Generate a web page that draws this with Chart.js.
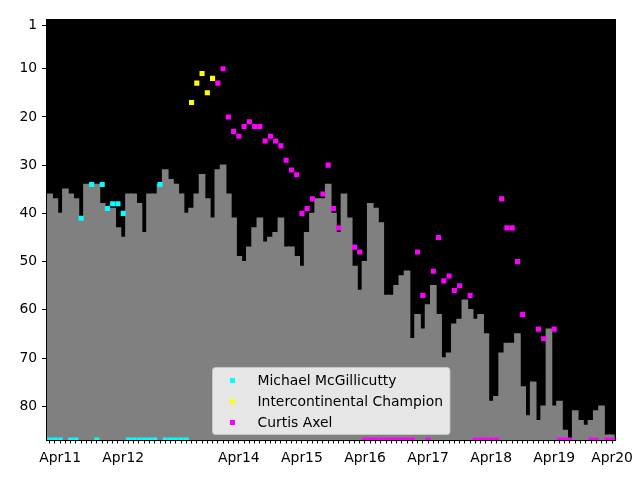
<!DOCTYPE html>
<html>
<head>
<meta charset="utf-8">
<script src="https://cdn.jsdelivr.net/npm/chart.js@4"></script>
<style>
    body { margin: 0; background: #fff; }
</style>
</head>
<body>
<canvas id="rankChart" width="640" height="480"></canvas>
<script>
// monthly rank shown as the gray steps (null = no entry that month)
const monthRank = [
    36, 37, 40, 35, 36, 37, 41, 34, 34, 34,
    38, 39, 39, 43, 45, 36, 36, 38, 44, 36,
    36, 34, 31, 33, 34, 36, 40, 39, 36, 32,
    37, 41, 31, 30, 36, 41, 49, 50, 47, 43,
    41, 46, 45, 44, 41, 47, 47, 49, 51, 44,
    40, 37, 37, 34, 40, 44, 36, 41, 51, 56,
    50, 38, 39, 42, 57, 57, 55, 53, 52, 66,
    61, 64, 59, 55, 61, 70, 69, 63, 62, 58,
    60, 62, 61, 65, 79, 78, 69, 67, 67, 65,
    76, 82, 75, 83, 80, 64, 80, 79, 85, null,
    81, 83, 84, 83, 81, 80, 86, 86
];

// marker series: month index + rank, 87 sits on the bottom edge
const mcgIdx = [0, 1, 2, 4, 5, 6, 8, 9, 10, 11, 12, 13, 14, 15, 16, 17, 18, 19, 20, 21, 22, 23, 24, 25, 26];
const mcgRank = [87, 87, 87, 87, 87, 41, 34, 87, 34, 39, 38, 38, 40, 87, 87, 87, 87, 87, 87, 34, 87, 87, 87, 87, 87];

const icIdx = [27, 28, 29, 30, 31];
const icRank = [17, 13, 11, 15, 12];

const axelIdx = [32, 33, 34, 35, 36, 37, 38, 39, 40, 41, 42, 43, 44, 45, 46, 47, 48, 49, 50,
    52, 53, 54, 55, 58, 59, 60, 61, 62, 63, 64, 65, 66, 67, 68, 69,
    70, 71, 72, 73, 74, 75, 76, 77, 78, 80, 81, 82, 83, 84, 85, 86, 87, 88, 89, 90,
    93, 94, 96, 97, 98, 99, 103, 104, 106, 107];
const axelRank = [13, 10, 20, 23, 24, 22, 21, 22, 22, 25, 24, 25, 26, 29, 31, 32, 40, 39, 37,
    36, 30, 39, 43, 47, 48, 87, 87, 87, 87, 87, 87, 87, 87, 87, 87,
    48, 57, 87, 52, 45, 54, 53, 56, 55, 57, 87, 87, 87, 87, 87, 37, 43, 43, 50, 61,
    64, 66, 64, 87, 87, 87, 87, 87, 87, 87];

const tickIdx = [2, 14, 36, 48, 60, 72, 84, 96, 107];
const tickText = ["Apr11", "Apr12", "Apr14", "Apr15", "Apr16", "Apr17", "Apr18", "Apr19", "Apr20"];
const yTicks = [1, 10, 20, 30, 40, 50, 60, 70, 80];

const yTop = -0.1, yBottom = 87;
const tickFont = { family: "'DejaVu Sans'", size: 13.9 };

function spread(idx, vals) {
    const out = monthRank.map(() => null);
    idx.forEach((i, k) => { out[i] = vals[k]; });
    return out;
}

function markers(label, color, idx, vals) {
    return {
        type: "line",
        label: label,
        data: spread(idx, vals),
        showLine: false,
        pointStyle: "rect",
        pointRadius: 3.6,
        pointHoverRadius: 3.6,
        pointBackgroundColor: color,
        pointBorderColor: color,
        pointBorderWidth: 0,
        backgroundColor: color,
        borderColor: color,
        clip: 0,
        order: 0
    };
}

// black plot area + frame (snapped to whole pixels)
const blackArea = {
    id: "blackArea",
    beforeDatasetsDraw(chart) {
        const { ctx, chartArea: a } = chart;
        const L = Math.round(a.left), R = Math.round(a.right);
        const T = Math.round(a.top), B = Math.round(a.bottom);
        ctx.save();
        ctx.fillStyle = "#000";
        ctx.fillRect(L, T, R - L, B - T);
        ctx.restore();
    },
    afterDraw(chart) {
        const { ctx, chartArea: a } = chart;
        const L = Math.round(a.left), R = Math.round(a.right);
        const T = Math.round(a.top), B = Math.round(a.bottom);
        ctx.save();
        ctx.strokeStyle = "#000";
        ctx.lineWidth = 1;
        ctx.strokeRect(L - 0.5, T - 0.5, R - L + 1, B - T + 1);
        ctx.restore();
    }
};

// legend drawn inside the plot, lower centre
const boxLegend = {
    id: "boxLegend",
    afterDatasetsDraw(chart) {
        const { ctx, chartArea: a } = chart;
        const items = chart.data.datasets.slice(1);
        ctx.save();
        ctx.font = "13.9px 'DejaVu Sans'";
        const textW = Math.max(...items.map(d => ctx.measureText(d.label).width));
        const w = textW + 52, h = 67, rowH = 21;
        const x = Math.round((a.left + a.right) / 2 - w / 2) + 0.5;
        const y = Math.round(a.bottom - 6 - h) + 0.5;
        ctx.beginPath();
        ctx.roundRect(x, y, w, h, 3);
        ctx.fillStyle = "rgba(255,255,255,0.8)";
        ctx.fill();
        ctx.strokeStyle = "rgba(204,204,204,0.8)";
        ctx.lineWidth = 1;
        ctx.stroke();
        ctx.textBaseline = "middle";
        items.forEach((d, k) => {
            const cy = Math.round(y + 12 + k * rowH);
            ctx.fillStyle = d.pointBackgroundColor;
            ctx.fillRect(Math.round(x + 17.5), cy - 2, 5, 5);
            ctx.fillStyle = "#000";
            ctx.fillText(d.label, x + 45, cy + 1);
        });
        ctx.restore();
    }
};

const ctx = document.getElementById("rankChart").getContext("2d");

new Chart(ctx, {
    type: "bar",
    data: {
        labels: monthRank.map((_, i) => i),
        datasets: [
            {
                label: "rank",
                data: monthRank.map(v => v == null ? null : [v, yBottom]),
                backgroundColor: "#808080",
                borderWidth: 0,
                inflateAmount: 0.7,
                barPercentage: 1,
                categoryPercentage: 1,
                order: 1
            },
            markers("Michael McGillicutty", "#00ffff", mcgIdx, mcgRank),
            markers("Intercontinental Champion", "#ffff00", icIdx, icRank),
            markers("Curtis Axel", "#ff00ff", axelIdx, axelRank)
        ]
    },
    options: {
        responsive: false,
        animation: false,
        layout: { padding: { top: 20, right: 25, left: 1, bottom: 0 } },
        plugins: {
            legend: { display: false },
            tooltip: { enabled: false }
        },
        scales: {
            x: {
                grid: { offset: false, drawOnChartArea: false, tickLength: 3.5, color: "#000" },
                border: { display: false },
                ticks: {
                    autoSkip: false,
                    maxRotation: 0,
                    minRotation: 0,
                    padding: 7,
                    color: "#000",
                    font: tickFont,
                    callback: (v, i) => {
                        const k = tickIdx.indexOf(i);
                        return k >= 0 ? tickText[k] : "";
                    }
                },
                afterFit: s => { s.height = 40; }
            },
            y: {
                reverse: true,
                min: yTop,
                max: yBottom,
                afterBuildTicks: s => { s.ticks = yTicks.map(v => ({ value: v })); },
                grid: { drawOnChartArea: false, tickLength: 4.9, color: "#000" },
                border: { display: false },
                ticks: { padding: 4.9, color: "#000", font: tickFont },
                afterFit: s => { s.width = 46; }
            }
        }
    },
    plugins: [blackArea, boxLegend]
});
</script>
</body>
</html>
